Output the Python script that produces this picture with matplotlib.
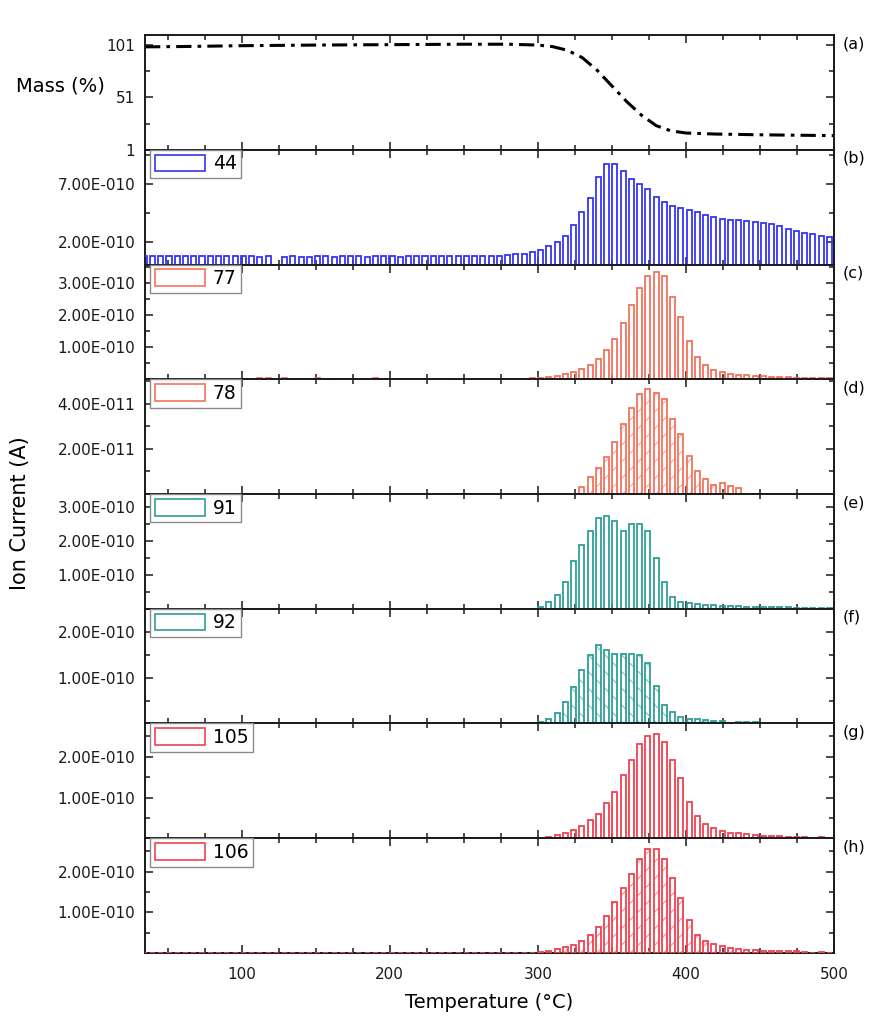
import matplotlib
matplotlib.use('Agg')
import matplotlib.pyplot as plt
from matplotlib.ticker import FixedLocator, FixedFormatter, MultipleLocator
from matplotlib.patches import Patch
from matplotlib.legend_handler import HandlerTuple

plt.rcParams['font.family'] = ['DejaVu Sans']
plt.rcParams['hatch.linewidth'] = 0.9

# ---------------- data ----------------
temperature = [34.2, 39.8, 45.4, 50.9, 56.5, 62.1, 67.7, 73.2, 78.8, 84.4,
               90.0, 95.5, 101.1, 106.7, 112.3, 117.8, 123.4, 129.0, 134.6, 140.1,
               145.7, 151.3, 156.9, 162.4, 168.0, 173.6, 179.2, 184.7, 190.3, 195.9,
               201.5, 207.0, 212.6, 218.2, 223.8, 229.3, 234.9, 240.5, 246.1, 251.6,
               257.2, 262.8, 268.4, 273.9, 279.5, 285.1, 290.7, 296.2, 301.8, 307.4,
               313.0, 318.5, 324.1, 329.7, 335.3, 340.8, 346.4, 352.0, 357.6, 363.1,
               368.7, 374.3, 379.9, 385.4, 391.0, 396.6, 402.2, 407.7, 413.3, 418.9,
               424.5, 430.0, 435.6, 441.2, 446.8, 452.3, 457.9, 463.5, 469.1, 474.6,
               480.2, 485.8, 491.4, 496.9]

mass_temp = [34.7, 60, 100, 150, 200, 250, 280, 300, 310, 320, 330, 340, 350,
             360, 370, 380, 390, 400, 420, 450, 500]
mass_pct = [99.3, 99.6, 100.4, 101.0, 101.4, 101.8, 101.8, 101.0, 99.5, 96.0,
            89.0, 77.0, 62.0, 47.0, 34.0, 24.0, 19.0, 17.0, 16.0, 15.3, 14.5]

# m/z 44 (units 1E-10 A)
ion_44 = [0.78, 0.76, 0.74, 0.74, 0.72, 0.72, 0.71, 0.72, 0.70, 0.71,
          0.70, 0.70, 0.72, 0.70, 0.69, 0.70, 0.00, 0.69, 0.70, 0.69,
          0.69, 0.70, 0.70, 0.69, 0.70, 0.71, 0.70, 0.69, 0.70, 0.70,
          0.70, 0.69, 0.70, 0.71, 0.70, 0.70, 0.70, 0.71, 0.72, 0.72,
          0.72, 0.73, 0.75, 0.78, 0.82, 0.88, 0.95, 1.05, 1.28, 1.57,
          2.00, 2.52, 3.43, 4.55, 5.82, 7.64, 8.72, 8.80, 8.16, 7.41,
          6.98, 6.60, 5.91, 5.42, 5.10, 4.90, 4.73, 4.58, 4.32, 4.12,
          4.00, 3.91, 3.86, 3.77, 3.69, 3.63, 3.51, 3.37, 3.13, 2.96,
          2.78, 2.67, 2.52, 2.44]

# m/z 77 (units 1E-10 A)
ion_77 = [0, 0, 0, 0, 0, 0, 0, 0, 0, 0,
          0, 0, 0, 0, 0.03, 0.03, 0, 0.03, 0, 0,
          0, 0.03, 0, 0, 0, 0, 0, 0, 0.03, 0,
          0, 0, 0, 0, 0, 0, 0, 0, 0, 0,
          0, 0, 0, 0, 0, 0.01, 0.02, 0.03, 0.04, 0.06,
          0.10, 0.15, 0.22, 0.32, 0.45, 0.62, 0.90, 1.25, 1.75, 2.30,
          2.85, 3.20, 3.35, 3.20, 2.55, 1.95, 1.20, 0.70, 0.45, 0.30,
          0.22, 0.17, 0.14, 0.12, 0.10, 0.09, 0.08, 0.07, 0.06, 0.05,
          0.05, 0.04, 0.04, 0.03]

# m/z 78 (units 1E-11 A)
ion_78 = [0] * 53 + [0.31, 0.74, 1.15, 1.66, 2.30, 3.11, 3.83, 4.43, 4.65, 4.50,
                     4.21, 3.34, 2.68, 1.70, 1.03, 0.68, 0.40, 0.49, 0.34, 0.26] + [0] * 11

# m/z 91 (units 1E-10 A)
ion_91 = [0] * 48 + [0.05, 0.20, 0.40, 0.80, 1.40, 1.90, 2.30, 2.70, 2.75, 2.60,
                     2.30, 2.50, 2.50, 2.30, 1.50, 0.80, 0.35, 0.20, 0.18, 0.15,
                     0.12, 0.10, 0.09, 0.08, 0.07, 0.06, 0.06, 0.05, 0.05, 0.04,
                     0.04, 0.03, 0.03, 0.03, 0.02, 0.02]

# m/z 92 (units 1E-10 A)
ion_92 = [0] * 47 + [0.01, 0.04, 0.10, 0.23, 0.47, 0.80, 1.17, 1.50, 1.72, 1.60,
                     1.52, 1.52, 1.51, 1.50, 1.32, 0.83, 0.41, 0.25, 0.15, 0.10,
                     0.10, 0.08, 0.06, 0.05, 0.00, 0.04, 0.03, 0.03, 0.02] + [0] * 8

# m/z 105 (units 1E-10 A)
ion_105 = [0] * 48 + [0.01, 0.04, 0.08, 0.13, 0.20, 0.31, 0.44, 0.60, 0.87, 1.14,
                      1.56, 1.92, 2.32, 2.51, 2.56, 2.36, 1.91, 1.48, 0.90, 0.54,
                      0.36, 0.26, 0.18, 0.14, 0.12, 0.10, 0.07, 0.06, 0.05, 0.05,
                      0.04, 0.03, 0.03, 0.00, 0.02, 0.00]

# m/z 106 (units 1E-10 A)
ion_106 = [0] * 48 + [0.03, 0.06, 0.09, 0.14, 0.20, 0.30, 0.45, 0.65, 0.90, 1.25,
                      1.60, 1.95, 2.30, 2.55, 2.55, 2.30, 1.85, 1.35, 0.80, 0.45,
                      0.30, 0.22, 0.16, 0.12, 0.10, 0.08, 0.07, 0.06, 0.05, 0.05,
                      0.04, 0.04, 0.03, 0.00, 0.02, 0.00]

series_labels = ['44', '77', '78', '91', '92', '105', '106']
panel_letters = ['(a)', '(b)', '(c)', '(d)', '(e)', '(f)', '(g)', '(h)']

mass_ticks = [1, 51, 101]
mass_ticklabels = ['1', '51', '101']

yticks_44 = [2e-10, 7e-10]
yticklabels_44 = ['2.00E-010', '7.00E-010']
yticks_77 = [1e-10, 2e-10, 3e-10]
yticklabels_77 = ['1.00E-010', '2.00E-010', '3.00E-010']
yticks_78 = [2e-11, 4e-11]
yticklabels_78 = ['2.00E-011', '4.00E-011']
yticks_91 = [1e-10, 2e-10, 3e-10]
yticklabels_91 = ['1.00E-010', '2.00E-010', '3.00E-010']
yticks_92 = [1e-10, 2e-10]
yticklabels_92 = ['1.00E-010', '2.00E-010']
yticks_105 = [1e-10, 2e-10]
yticklabels_105 = ['1.00E-010', '2.00E-010']
yticks_106 = [1e-10, 2e-10]
yticklabels_106 = ['1.00E-010', '2.00E-010']

# ---------------- styling ----------------
blue = '#3535f5'
salmon = '#f2735e'
teal = '#2f9e98'
red = '#f0424f'

panels = [
    dict(vals=ion_44, scale=1e-10, color=blue, hatch=None, hcolor=None, ymax=1.0e-9,
         ticks=yticks_44, labels=yticklabels_44, minor=[4.5e-10, 9.5e-10], name=series_labels[0]),
    dict(vals=ion_77, scale=1e-10, color=salmon, hatch=None, hcolor=None, ymax=3.57e-10,
         ticks=yticks_77, labels=yticklabels_77, minor=[0.5e-10, 1.5e-10, 2.5e-10, 3.5e-10], name=series_labels[1]),
    dict(vals=ion_78, scale=1e-11, color=salmon, hatch='//', hcolor='#f7ab9c', ymax=5.09e-11,
         ticks=yticks_78, labels=yticklabels_78, minor=[1e-11, 3e-11, 5e-11], name=series_labels[2]),
    dict(vals=ion_91, scale=1e-10, color=teal, hatch=None, hcolor=None, ymax=3.4e-10,
         ticks=yticks_91, labels=yticklabels_91, minor=[0.5e-10, 1.5e-10, 2.5e-10], name=series_labels[3]),
    dict(vals=ion_92, scale=1e-10, color=teal, hatch='\\\\', hcolor='#86c9c4', ymax=2.51e-10,
         ticks=yticks_92, labels=yticklabels_92, minor=[0.5e-10, 1.5e-10, 2.5e-10], name=series_labels[4]),
    dict(vals=ion_105, scale=1e-10, color=red, hatch=None, hcolor=None, ymax=2.82e-10,
         ticks=yticks_105, labels=yticklabels_105, minor=[0.5e-10, 1.5e-10, 2.5e-10], name=series_labels[5]),
    dict(vals=ion_106, scale=1e-10, color=red, hatch='//', hcolor='#f7939a', ymax=2.82e-10,
         ticks=yticks_106, labels=yticklabels_106, minor=[0.5e-10, 1.5e-10, 2.5e-10], name=series_labels[6]),
]

fig = plt.figure(figsize=(8.73, 10.18), dpi=100)
axes = fig.subplots(8, 1, sharex=True)
fig.subplots_adjust(left=0.1661, right=0.9553, top=0.9656, bottom=0.0639, hspace=0)

XMIN, XMAX = 34.7, 500
bar_w = 3.4

def style_axis(ax):
    for s in ax.spines.values():
        s.set_linewidth(1.4)
        s.set_color('#1a1a1a')
    ax.tick_params(which='both', direction='in', top=True, right=True,
                   labelsize=11, width=1.1, colors='#1a1a1a')
    ax.tick_params(which='major', length=6)
    ax.tick_params(which='minor', length=3.5)
    ax.tick_params(axis='y', pad=7)
    ax.tick_params(axis='x', pad=10)
    ax.set_xlim(XMIN, XMAX)
    ax.xaxis.set_major_locator(FixedLocator([100, 200, 300, 400, 500]))
    ax.xaxis.set_minor_locator(MultipleLocator(25))

# panel (a): mass
ax = axes[0]
ax.plot(mass_temp, mass_pct, color='black', lw=2.2, linestyle=(0, (5, 2, 1.2, 2)))
ax.set_ylim(1, 110.6)
ax.yaxis.set_major_locator(FixedLocator(mass_ticks))
ax.yaxis.set_major_formatter(FixedFormatter(mass_ticklabels))
ax.yaxis.set_minor_locator(FixedLocator([26, 76]))
style_axis(ax)
ax.text(-0.123, 0.555, 'Mass (%)', transform=ax.transAxes, ha='center', va='center', fontsize=14)

for ax, p in zip(axes[1:], panels):
    vals = [v * p['scale'] for v in p['vals']]
    if p['hatch']:
        ax.bar(temperature, vals, width=bar_w, facecolor='none', edgecolor=p['hcolor'],
               hatch=p['hatch'], linewidth=0, zorder=2)
    ax.bar(temperature, vals, width=bar_w, facecolor='none', edgecolor=p['color'],
           linewidth=1.3, zorder=3)
    ax.set_ylim(0, p['ymax'])
    ax.yaxis.set_major_locator(FixedLocator(p['ticks']))
    ax.yaxis.set_major_formatter(FixedFormatter(p['labels']))
    ax.yaxis.set_minor_locator(FixedLocator(p['minor']))
    style_axis(ax)
    h_edge = Patch(facecolor='white', edgecolor=p['color'], linewidth=1.2)
    if p['hatch']:
        h_hatch = Patch(facecolor='white', edgecolor=p['hcolor'], hatch=p['hatch'], linewidth=0)
        handle = (h_hatch, h_edge)
    else:
        handle = h_edge
    leg = ax.legend([handle], [p['name']], loc='upper left', bbox_to_anchor=(0.007, 1.0),
                    borderaxespad=0, fontsize=13.5, frameon=True, fancybox=False,
                    edgecolor='#8a8a8a', framealpha=1, handlelength=2.7, handleheight=1.0,
                    handletextpad=0.4, borderpad=0.25,
                    handler_map={tuple: HandlerTuple(ndivide=1)})
    leg.get_frame().set_linewidth(1.0)
    leg.set_zorder(5)

for ax, lt in zip(axes, panel_letters):
    ax.text(1.013, 0.925, lt, transform=ax.transAxes, ha='left', va='center', fontsize=11.5)

for ax in axes[:-1]:
    ax.tick_params(labelbottom=False)

fig.text(20 / 873, 1 - 513 / 1018, 'Ion Current (A)', rotation=90, ha='center', va='center', fontsize=15)
fig.text(489 / 873, 1 - 1002 / 1018, 'Temperature (°C)', ha='center', va='center', fontsize=14)

fig.savefig('out.png', dpi=100, facecolor='white')
